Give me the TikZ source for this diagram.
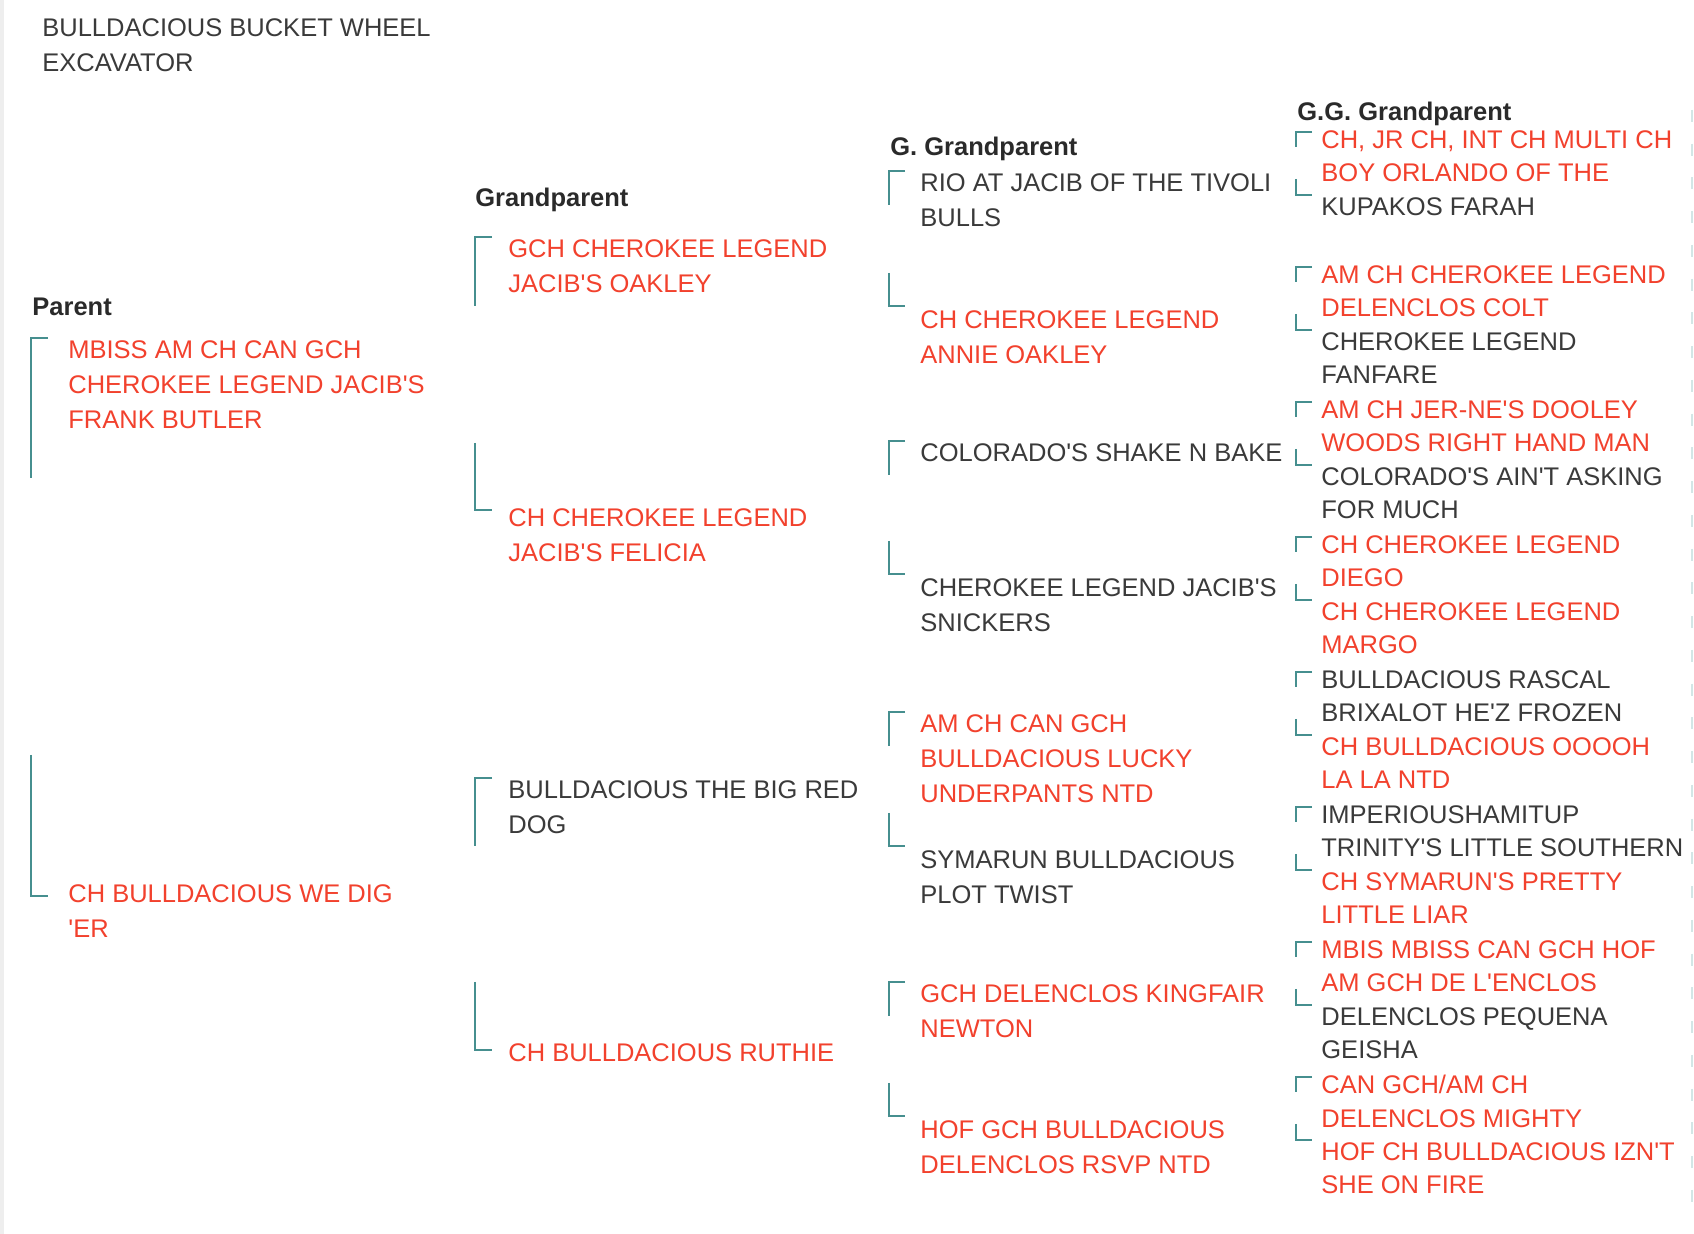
\documentclass[tikz,border=0pt]{standalone}
\usepackage{fontspec}
\setmainfont{Liberation Sans}
\usetikzlibrary{calc}

\definecolor{champred}{HTML}{F2412D}
\definecolor{dogink}{HTML}{3A3A3A}
\definecolor{headink}{HTML}{2A2A2A}
\definecolor{bracketteal}{HTML}{468F8F}
\definecolor{edgegray}{HTML}{EEEEEE}
\definecolor{edgeteal}{HTML}{D3E6E6}

\newcommand{\ap}{\textquotesingle}

\tikzset{
  dogname/.style={anchor=north west, inner sep=0pt, align=left, font=\fontsize{12.75pt}{17.5pt}\selectfont},
  champdog/.style={dogname, text=champred},
  plaindog/.style={dogname, text=dogink},
  ggrow/.style={font=\fontsize{12.75pt}{16.875pt}\selectfont},
  colhead/.style={anchor=north west, inner sep=0pt, text=headink, font=\fontsize{12.75pt}{17.5pt}\selectfont\bfseries},
  brk/.style={draw=bracketteal, line width=1pt},
}

\begin{document}
\begin{tikzpicture}[x=0.5pt, y=-0.5pt]
	\useasboundingbox (0,0) rectangle (1694,1234);
	\fill[white] (0,0) rectangle (1694,1234);
	\fill[edgegray] (0,0) rectangle (4,1234);
	\draw[edgeteal, line width=0.75pt, dash pattern=on 6pt off 10.875pt] (1692,110) -- (1692,1216);

	% Title and headings
	\node[plaindog] at (42,18) (title) {BULLDACIOUS BUCKET WHEEL\\EXCAVATOR};
	\node[colhead] at (32,298) (hP) {Parent};
	\node[colhead] at (475,188) (hGP) {Grandparent};
	\node[colhead] at (890,137) (hGGP) {G. Grandparent};
	\node[colhead] at (1297,102) (hGG) {G.G. Grandparent};

	% Parents
	\node[champdog] at (68,340) (p1) {MBISS AM CH CAN GCH\\CHEROKEE LEGEND JACIB\ap S\\FRANK BUTLER};
	\node[champdog] at (68,884) (p2) {CH BULLDACIOUS WE DIG\\\ap ER};

	% Grandparents
	\node[champdog] at (508,239) (gp1) {GCH CHEROKEE LEGEND\\JACIB\ap S OAKLEY};
	\node[champdog] at (508,508) (gp2) {CH CHEROKEE LEGEND\\JACIB\ap S FELICIA};
	\node[plaindog] at (508,780) (gp3) {BULLDACIOUS THE BIG RED\\DOG};
	\node[champdog] at (508,1043) (gp4) {CH BULLDACIOUS RUTHIE};

	% Great grandparents
	\node[plaindog] at (920,173) (ggp1) {RIO AT JACIB OF THE TIVOLI\\BULLS};
	\node[champdog] at (920,310) (ggp2) {CH CHEROKEE LEGEND\\ANNIE OAKLEY};
	\node[plaindog] at (920,443) (ggp3) {COLORADO\ap S SHAKE N BAKE};
	\node[plaindog] at (920,578) (ggp4) {CHEROKEE LEGEND JACIB\ap S\\SNICKERS};
	\node[champdog] at (920,714) (ggp5) {AM CH CAN GCH\\BULLDACIOUS LUCKY\\UNDERPANTS NTD};
	\node[plaindog] at (920,850) (ggp6) {SYMARUN BULLDACIOUS\\PLOT TWIST};
	\node[champdog] at (920,984) (ggp7) {GCH DELENCLOS KINGFAIR\\NEWTON};
	\node[champdog] at (920,1120) (ggp8) {HOF GCH BULLDACIOUS\\DELENCLOS RSVP NTD};

	% Great great grandparents
	\node[champdog, ggrow] at (1321,130) (gg1) {CH, JR CH, INT CH MULTI CH\\BOY ORLANDO OF THE};
	\node[plaindog, ggrow] at (1321,197) (gg2) {KUPAKOS FARAH};
	\node[champdog, ggrow] at (1321,265) (gg3) {AM CH CHEROKEE LEGEND\\DELENCLOS COLT};
	\node[plaindog, ggrow] at (1321,332) (gg4) {CHEROKEE LEGEND\\FANFARE};
	\node[champdog, ggrow] at (1321,400) (gg5) {AM CH JER-NE\ap S DOOLEY\\WOODS RIGHT HAND MAN};
	\node[plaindog, ggrow] at (1321,467) (gg6) {COLORADO\ap S AIN\ap T ASKING\\FOR MUCH};
	\node[champdog, ggrow] at (1321,535) (gg7) {CH CHEROKEE LEGEND\\DIEGO};
	\node[champdog, ggrow] at (1321,602) (gg8) {CH CHEROKEE LEGEND\\MARGO};
	\node[plaindog, ggrow] at (1321,670) (gg9) {BULLDACIOUS RASCAL\\BRIXALOT HE\ap Z FROZEN};
	\node[champdog, ggrow] at (1321,737) (gg10) {CH BULLDACIOUS OOOOH\\LA LA NTD};
	\node[plaindog, ggrow] at (1321,805) (gg11) {IMPERIOUSHAMITUP\\TRINITY\ap S LITTLE SOUTHERN};
	\node[champdog, ggrow] at (1321,872) (gg12) {CH SYMARUN\ap S PRETTY\\LITTLE LIAR};
	\node[champdog, ggrow] at (1321,940) (gg13) {MBIS MBISS CAN GCH HOF\\AM GCH DE L\ap ENCLOS};
	\node[plaindog, ggrow] at (1321,1007) (gg14) {DELENCLOS PEQUENA\\GEISHA};
	\node[champdog, ggrow] at (1321,1075) (gg15) {CAN GCH/AM CH\\DELENCLOS MIGHTY};
	\node[champdog, ggrow] at (1321,1142) (gg16) {HOF CH BULLDACIOUS IZN\ap T\\SHE ON FIRE};

	% Brackets
	\draw[brk] ($(p1.north west)+(-20,-2)$) -| ($(p1.north west)+(-37,138)$);
	\draw[brk] ($(p2.north west)+(-37,-129)$) |- ($(p2.north west)+(-20,12)$);
	\draw[brk] ($(gp1.north west)+(-16,-2)$) -| ($(gp1.north west)+(-33,67)$);
	\draw[brk] ($(gp2.north west)+(-33,-65)$) |- ($(gp2.north west)+(-16,2)$);
	\draw[brk] ($(gp3.north west)+(-16,-2)$) -| ($(gp3.north west)+(-33,66)$);
	\draw[brk] ($(gp4.north west)+(-33,-61)$) |- ($(gp4.north west)+(-16,7)$);
	\draw[brk] ($(ggp1.north west)+(-15,-2)$) -| ($(ggp1.north west)+(-31,32)$);
	\draw[brk] ($(ggp2.north west)+(-31,-37)$) |- ($(ggp2.north west)+(-15,-4)$);
	\draw[brk] ($(ggp3.north west)+(-15,-2)$) -| ($(ggp3.north west)+(-31,32)$);
	\draw[brk] ($(ggp4.north west)+(-31,-37)$) |- ($(ggp4.north west)+(-15,-4)$);
	\draw[brk] ($(ggp5.north west)+(-15,-2)$) -| ($(ggp5.north west)+(-31,32)$);
	\draw[brk] ($(ggp6.north west)+(-31,-37)$) |- ($(ggp6.north west)+(-15,-4)$);
	\draw[brk] ($(ggp7.north west)+(-15,-2)$) -| ($(ggp7.north west)+(-31,32)$);
	\draw[brk] ($(ggp8.north west)+(-31,-37)$) |- ($(ggp8.north west)+(-15,-4)$);
	\draw[brk] ($(gg1.north west)+(-9,2)$) -| ($(gg1.north west)+(-25,17)$);
	\draw[brk] ($(gg2.north west)+(-25,-18)$) |- ($(gg2.north west)+(-9,-2)$);
	\draw[brk] ($(gg3.north west)+(-9,2)$) -| ($(gg3.north west)+(-25,17)$);
	\draw[brk] ($(gg4.north west)+(-25,-18)$) |- ($(gg4.north west)+(-9,-2)$);
	\draw[brk] ($(gg5.north west)+(-9,2)$) -| ($(gg5.north west)+(-25,17)$);
	\draw[brk] ($(gg6.north west)+(-25,-18)$) |- ($(gg6.north west)+(-9,-2)$);
	\draw[brk] ($(gg7.north west)+(-9,2)$) -| ($(gg7.north west)+(-25,17)$);
	\draw[brk] ($(gg8.north west)+(-25,-18)$) |- ($(gg8.north west)+(-9,-2)$);
	\draw[brk] ($(gg9.north west)+(-9,2)$) -| ($(gg9.north west)+(-25,17)$);
	\draw[brk] ($(gg10.north west)+(-25,-18)$) |- ($(gg10.north west)+(-9,-2)$);
	\draw[brk] ($(gg11.north west)+(-9,2)$) -| ($(gg11.north west)+(-25,17)$);
	\draw[brk] ($(gg12.north west)+(-25,-18)$) |- ($(gg12.north west)+(-9,-2)$);
	\draw[brk] ($(gg13.north west)+(-9,2)$) -| ($(gg13.north west)+(-25,17)$);
	\draw[brk] ($(gg14.north west)+(-25,-18)$) |- ($(gg14.north west)+(-9,-2)$);
	\draw[brk] ($(gg15.north west)+(-9,2)$) -| ($(gg15.north west)+(-25,17)$);
	\draw[brk] ($(gg16.north west)+(-25,-18)$) |- ($(gg16.north west)+(-9,-2)$);

\end{tikzpicture}
\end{document}
